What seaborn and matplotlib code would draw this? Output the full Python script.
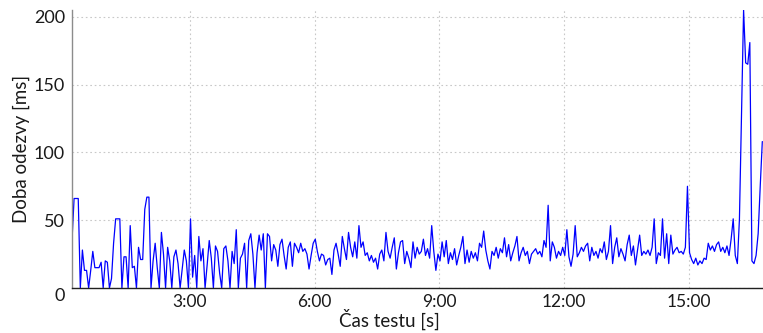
import numpy as np
import pandas as pd
import matplotlib
matplotlib.use("Agg")
import matplotlib.pyplot as plt
from matplotlib.ticker import FixedLocator
import seaborn as sns

# casovani vzorku (s)
start_s = 10
krok_s = 3

# doba odezvy (ms) - zacatek testu s vypadky na 0
odezva_zacatek = [
    35, 66, 66, 66, 0, 28, 13, 13, 0, 13,
    27, 15, 15, 15, 19, 0, 20, 19, 0, 7,
    33, 51, 51, 51, 0, 23, 23, 0, 46, 15,
    16, 0, 30, 21, 21, 58, 67, 67, 0, 20,
    33, 15, 0, 41, 25, 0, 30, 20, 0,
    23, 28, 18, 0, 14, 28, 20, 0, 51, 8,
    24, 0, 38, 20, 29, 0, 17, 35, 22, 0,
    31, 27, 11, 0, 29, 31, 20, 0, 27, 18,
    43, 0, 22, 25, 33, 0, 35, 40, 25, 0,
    26, 39, 28, 40, 0, 40,
]

# stabilni cast
odezva_stred = [
    38, 20, 32, 28, 16, 32, 36, 24, 14, 30,
    34, 16, 33, 30, 26, 33, 27, 29, 25, 14,
    24, 33, 36, 27, 20, 25, 24, 17, 21, 22,
    10, 28, 33, 25, 16, 38, 29, 21, 41, 30,
    23, 34, 22, 46, 30, 34, 24,
    26, 20, 24, 19, 22, 14, 25, 28, 20, 41,
    27, 22, 30, 37, 14, 26, 34, 35, 18, 27,
    22, 15, 34, 22, 30, 25, 27, 36, 24, 29,
    22, 46, 27, 13, 25, 20, 34, 23, 35, 18,
    26, 21, 29, 17,
    24, 30, 38, 18, 28, 19, 27, 22, 26, 20,
    33, 30, 42, 28, 20, 14, 27, 24, 30, 22,
    29, 26, 37, 23, 32, 20, 26, 31, 38, 20,
    26, 30, 24, 27, 18, 25, 27, 29, 25, 27,
    23, 35, 30, 61, 20, 34, 30, 22, 27, 24,
    30, 24, 43, 23, 16, 25, 46, 23, 26, 30,
    27, 31,
]

# konec testu se spickami
odezva_konec = [
    33, 20, 30, 24, 27, 22, 29, 26, 34, 21,
    27, 46, 18, 30, 37, 23, 29, 25, 20, 32,
    39, 24, 31, 17, 28, 39, 24, 27, 25, 28,
    24, 30, 51, 18, 26, 24, 51, 22, 40, 18,
    39, 25, 28, 30, 26, 27, 25, 30, 75, 26,
    21, 18, 22, 17, 20, 18, 22, 21, 33, 28,
    31, 27, 32, 34, 27, 30, 26, 31, 24, 36,
    51, 24, 18, 51, 128, 205, 166, 165, 181, 20,
    18, 24, 40, 75, 108,
]

x_ticks = [180, 360, 540, 720, 900]
x_labels = ["3:00", "6:00", "9:00", "12:00", "15:00"]
y_ticks = [0, 50, 100, 150, 200]

odezva = odezva_zacatek + odezva_stred + odezva_konec
cas = start_s + krok_s * np.arange(len(odezva))
df = pd.DataFrame({"cas": cas, "odezva": odezva})

sns.set_style("white")
plt.rcParams["font.family"] = ["Lato", "DejaVu Sans"]

fig = plt.figure(figsize=(7.63, 3.33), dpi=100)
ax = fig.add_axes([72 / 763, 1 - 288 / 333, 1 - 72 / 763, (288 - 10) / 333])

sns.lineplot(data=df, x="cas", y="odezva", ax=ax, color="#0000ff",
             linewidth=0.9, estimator=None)

ax.set_xlim(10, 1007)
ax.set_ylim(0, 205)
ax.set_xticks(x_ticks)
ax.set_xticklabels(x_labels)
ax.xaxis.set_minor_locator(FixedLocator([90, 270, 450, 630, 810, 990]))
ax.set_yticks(y_ticks)

ax.grid(True, which="major", linestyle=(0, (1.5, 2.5)), color="#c8c8c8", linewidth=0.8)
ax.tick_params(axis="x", which="major", length=3, width=0.8, color="#404040",
               pad=1, labelsize=12.5, labelcolor="#1a1a1a")
ax.tick_params(axis="x", which="minor", length=2, width=0.6, color="#606060")
ax.tick_params(axis="y", length=0, pad=5, labelsize=13, labelcolor="#1a1a1a")

# popisek 0 na ose y je posunuty dolu
ax.yaxis.get_major_ticks()[0].label1.set_va("top")

for s in ["top", "right"]:
    ax.spines[s].set_visible(False)
ax.spines["left"].set_color("#8c8c8c")
ax.spines["left"].set_linewidth(1.0)
ax.spines["bottom"].set_color("#202020")
ax.spines["bottom"].set_linewidth(1.0)

ax.set_xlabel("Čas testu [s]", fontsize=13.5, color="#1a1a1a")
ax.xaxis.set_label_coords((389 - 72) / 691, -0.075)
ax.set_ylabel("Doba odezvy [ms]", fontsize=13.5, color="#1a1a1a", labelpad=3)

fig.savefig("out.png", dpi=100)
